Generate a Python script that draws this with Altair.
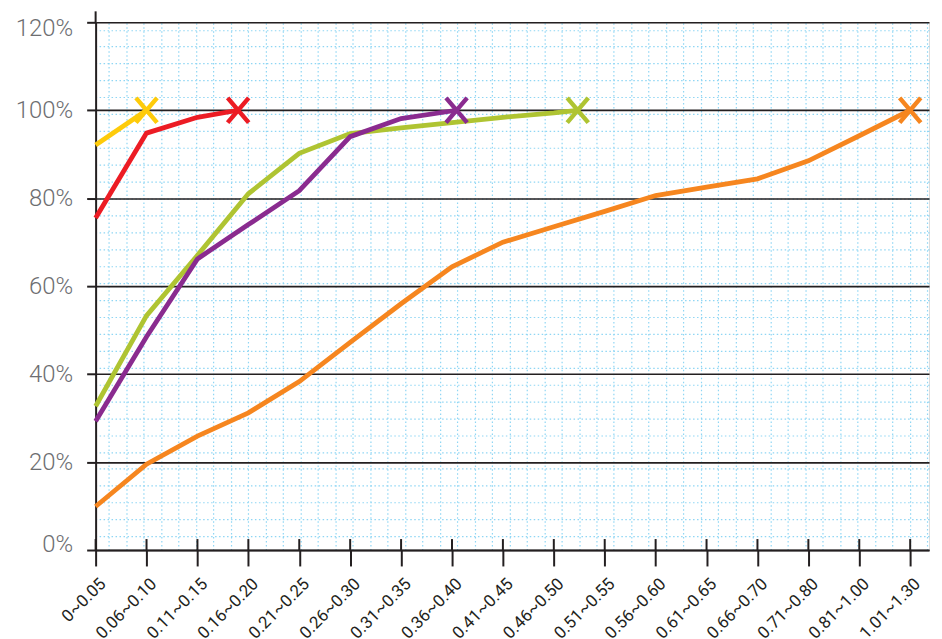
import json
import altair as alt
import numpy as np
import pandas as pd

# ---------------- data ----------------
categories = ["0~0.05", "0.06~0.10", "0.11~0.15", "0.16~0.20", "0.21~0.25",
              "0.26~0.30", "0.31~0.35", "0.36~0.40", "0.41~0.45", "0.46~0.50",
              "0.51~0.55", "0.56~0.60", "0.61~0.65", "0.66~0.70", "0.71~0.80",
              "0.81~1.00", "1.01~1.30"]

series_names = ["S1", "S2", "S3", "S4", "S5"]
series_colors = ["#f6861f", "#afc432", "#8a2b8f", "#ec1c24", "#fecb0a"]

orange_x = list(range(17))
orange_y = [9.9, 19.5, 25.9, 31.2, 38.3, 47.2, 56.0, 64.4, 70.0, 73.5, 77.0,
            80.6, 82.5, 84.4, 88.5, 94.2, 100.0]
green_x = [0, 1, 2, 3, 4, 5, 6, 7, 8, 9, 9.47]
green_y = [32.7, 53.3, 67.0, 81.0, 90.2, 94.7, 96.0, 97.2, 98.4, 99.4, 100.0]
purple_x = [0, 1, 2, 3, 4, 5, 6, 7.09]
purple_y = [29.3, 48.5, 66.2, 74.0, 81.7, 94.0, 98.1, 100.0]
red_x = [0, 1, 2, 2.8]
red_y = [75.5, 94.8, 98.4, 100.0]
yellow_x = [0, 1]
yellow_y = [92.1, 100.0]

y_ticks = [0, 20, 40, 60, 80, 100, 120]

# decorative graph-paper grid positions
x_minor = np.round(0.259 + 0.3421 * np.arange(48), 4).tolist()
y_minor = np.round(118.3 - 3.84 * np.arange(31), 3).tolist()

# ---------------- tables ----------------
all_x = [orange_x, green_x, purple_x, red_x, yellow_x]
all_y = [orange_y, green_y, purple_y, red_y, yellow_y]
rows = []
for k, (name, xs, ys) in enumerate(zip(series_names, all_x, all_y)):
    for xv, yv in zip(xs, ys):
        rows.append({"series": name, "k": k, "x": xv, "y": yv})
lines_df = pd.DataFrame(rows)
ends_df = pd.DataFrame([{"series": n, "x": xs[-1], "y": ys[-1]}
                        for n, xs, ys in zip(series_names, all_x, all_y)])
cat_df = pd.DataFrame({"idx": list(range(len(categories))), "label": categories})

W, H = 837, 530
xscale = alt.Scale(domain=[0, 16.37], nice=False, zero=False)
yscale = alt.Scale(domain=[0, 120], nice=False)
cscale = alt.Scale(domain=series_names, range=series_colors)
INK = "#231f20"
DOT = "#8fd6f4"

# graph-paper grid (secondary, invisible axes)
grid_layer = alt.Chart(lines_df).mark_point(opacity=0).encode(
    x=alt.X("x:Q", scale=xscale, axis=alt.Axis(
        orient="top", values=x_minor, grid=True, gridColor=DOT, gridDash=[1.5, 2.5],
        gridWidth=1.2, domain=False, ticks=False, labels=False, title=None)),
    y=alt.Y("y:Q", scale=yscale, axis=alt.Axis(
        orient="right", values=y_minor, grid=True, gridColor=DOT, gridDash=[1.5, 2.5],
        gridWidth=1.2, domain=False, ticks=False, labels=False, title=None)),
)

label_expr = json.dumps(categories) + "[round(datum.value)]"

lines = alt.Chart(lines_df).mark_line(strokeWidth=4.8, strokeJoin="miter").encode(
    x=alt.X("x:Q", scale=xscale, axis=alt.Axis(
        orient="bottom", values=list(range(len(categories))), labelExpr=label_expr,
        labelAngle=-45, labelAlign="right", labelBaseline="middle",
        labelFont="Roboto", labelFontSize=17, labelColor=INK,
        labelPadding=15, labelOffset=7, labelFlush=False, labelOverlap=False,
        labelBound=False, tickSize=16, tickWidth=2, tickColor=INK,
        domainColor=INK, domainWidth=2, grid=False, title=None)),
    y=alt.Y("y:Q", scale=yscale, axis=alt.Axis(
        orient="left", values=y_ticks, labelExpr="datum.value + '%'",
        labelFont="Roboto", labelFontSize=24, labelFontWeight=300,
        labelColor="#6d6e71", labelPadding=14, labelFlush=True,
        labelFlushOffset=6, tickSize=9, tickWidth=2, tickColor=INK,
        domainColor=INK, domainWidth=2, grid=True, gridColor=INK,
        gridWidth=1.6, title=None)),
    color=alt.Color("series:N", scale=cscale, legend=None),
    detail="k:O",
)

markers = alt.Chart(ends_df).mark_point(
    shape="M-0.85,-1L0.85,1M0.85,-1L-0.85,1", filled=False, strokeWidth=4.5,
    size=620, opacity=1).encode(
    x=alt.X("x:Q", scale=xscale, axis=None),
    y=alt.Y("y:Q", scale=yscale, axis=None),
    color=alt.Color("series:N", scale=cscale, legend=None),
)

inner_ticks = alt.Chart(cat_df).mark_rule(color=INK, strokeWidth=2).encode(
    x=alt.X("idx:Q", scale=xscale, axis=None),
    y=alt.value(H - 11),
    y2=alt.value(H),
)

yext = alt.Chart(pd.DataFrame({"a": [0]})).mark_rule(color=INK, strokeWidth=2).encode(
    x=alt.value(0), y=alt.value(-11), y2=alt.value(0))

chart = alt.layer(grid_layer, lines, markers, inner_ticks, yext).resolve_axis(
    x="independent", y="independent"
).properties(
    width=W, height=H,
    autosize=alt.AutoSizeParams(type="none"),
    padding={"left": 88, "top": 13, "right": 5, "bottom": 88},
).configure_view(stroke=None).configure(background="white")

chart.save("out.html", embed_options={"renderer": "svg", "actions": False})
